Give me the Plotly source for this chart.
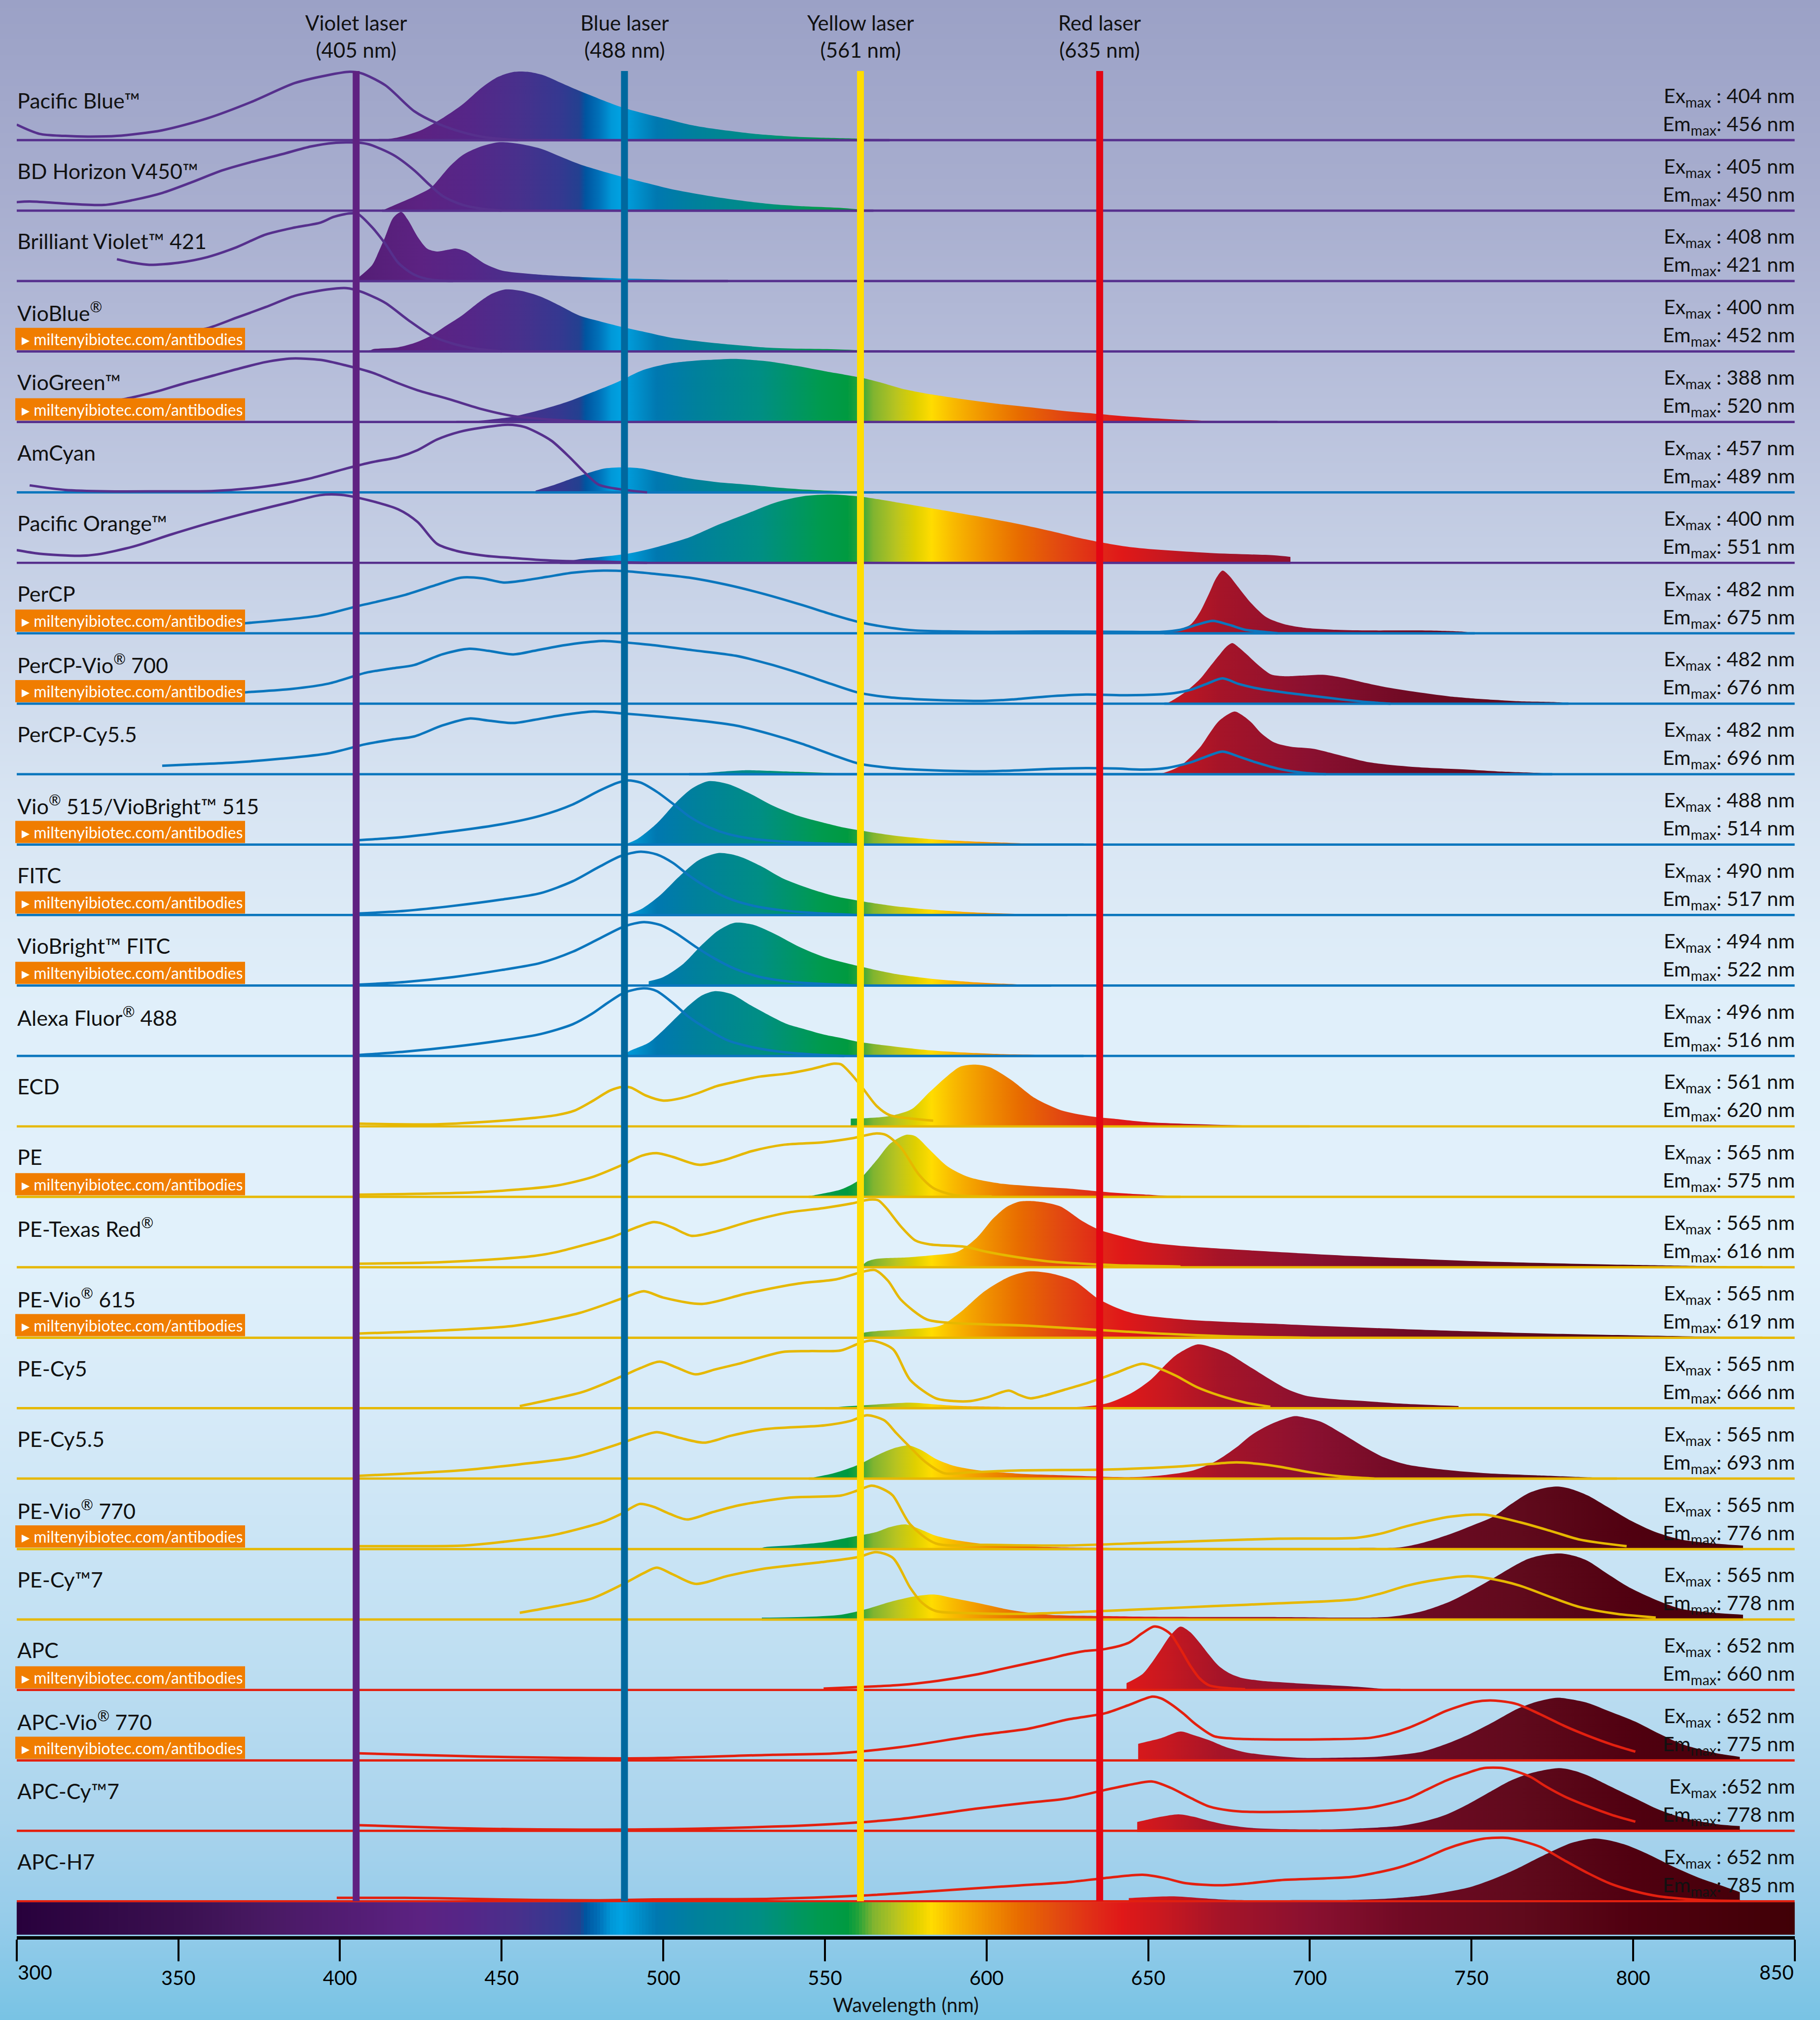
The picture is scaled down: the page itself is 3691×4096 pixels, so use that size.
import plotly.graph_objects as go

# ---------------- data ----------------
NAMES = ["Pacific Blue™", "BD Horizon V450™", "Brilliant Violet™ 421", "VioBlue<sup>®</sup>",
         "VioGreen™", "AmCyan", "Pacific Orange™", "PerCP", "PerCP-Vio<sup>®</sup> 700", "PerCP-Cy5.5",
         "Vio<sup>®</sup> 515/VioBright™ 515", "FITC", "VioBright™ FITC", "Alexa Fluor<sup>®</sup> 488",
         "ECD", "PE", "PE-Texas Red<sup>®</sup>", "PE-Vio<sup>®</sup> 615", "PE-Cy5", "PE-Cy5.5",
         "PE-Vio<sup>®</sup> 770", "PE-Cy™7", "APC", "APC-Vio<sup>®</sup> 770", "APC-Cy™7", "APC-H7"]
EX_MAX = [404, 405, 408, 400, 388, 457, 400, 482, 482, 482, 488, 490, 494, 496,
          561, 565, 565, 565, 565, 565, 565, 565, 652, 652, 652, 652]
EM_MAX = [456, 450, 421, 452, 520, 489, 551, 675, 676, 696, 514, 517, 522, 516,
          620, 575, 616, 619, 666, 693, 776, 778, 660, 775, 778, 785]
EX_SEP = [" : "] * 24 + [" :", " : "]
HAS_BADGE = [0, 0, 0, 1, 1, 0, 0, 1, 1, 0, 1, 1, 1, 0, 0, 1, 0, 1, 0, 0, 1, 0, 1, 1, 0, 0]
BADGE_TEXT = "▸ miltenyibiotec.com/antibodies"

LASER_NM = [405, 488, 561, 635]
LASER_NAMES = ["Violet laser", "Blue laser", "Yellow laser", "Red laser"]
LASER_COLORS = ["#5f2181", "#00689e", "#ffdd00", "#e30613"]

TICKS = [300, 350, 400, 450, 500, 550, 600, 650, 700, 750, 800, 850]

# spectra: (wavelength nm, relative intensity in % of row height)
PB_EX = [(300, 22), (307, 9), (315, 6), (322, 5), (331, 6), (345, 14), (359, 31), (373, 55), (386, 81),
         (396, 92), (403, 97), (406.5, 95), (414, 78), (423, 41), (430, 24), (438, 11), (445, 4), (455, 0)]
PB_EM = [(412, 0), (418, 4), (425, 14), (432, 32), (438, 51), (444, 75), (449, 90), (454, 97), (458, 97),
         (463, 92), (468, 82), (473, 72), (480, 59), (487, 47), (494, 38), (501, 30), (508, 22), (515, 16.5),
         (528, 9), (540, 5), (549, 3.5), (562, 2), (570, 0)]
BD_EX = [(300, 12), (304, 13), (315, 10), (327, 8), (336, 15), (345, 25), (354, 40), (363.5, 57),
         (372.6, 69), (382, 80), (391, 91), (398, 96), (405.6, 96.5), (409, 94), (416.5, 79), (423, 57),
         (427.6, 37), (432, 20), (438, 8), (445, 2), (450, 0)]
BD_EM = [(413, 0), (418, 10), (423, 20), (428, 32), (431, 47), (434, 63), (438, 79), (443, 90), (449, 97),
         (455, 95), (462, 88), (468, 77), (474, 66), (481, 56), (488, 47), (495, 39), (502, 31), (510, 24),
         (518, 18), (526, 13), (534, 9), (544, 6), (554, 4), (565, 0)]
BV421_EX = [(331, 31), (336, 26), (341, 23), (350, 26), (359, 34), (368, 48), (377, 66), (386, 76),
            (394, 83), (398, 91), (403, 96), (405.6, 95), (410, 76), (414, 53), (418, 26), (423, 9),
            (428, 2), (435, 0)]
BV421_EM = [(406, 6), (410, 23), (412, 42), (414, 63), (416.5, 90), (419, 98), (421, 87), (424, 63),
            (427, 46), (430, 42), (433, 44), (436, 46), (439, 42), (442, 33), (445, 24), (450, 15),
            (462, 9), (478, 5), (502, 2), (520, 0)]
VIOBLUE_EX = [(340, 18), (350, 26), (359, 33), (368, 48), (377, 63), (386, 79), (396, 88), (402, 90),
              (406.5, 85), (414, 69), (421, 45), (428.5, 22), (435, 11), (442, 4), (450, 0)]
VIOBLUE_EM = [(409, 0), (410, 3), (418, 6), (423, 12), (428, 22), (433, 37), (438, 52), (443, 70),
              (447, 82), (451, 88), (456, 86), (462, 78), (468, 65), (474, 51), (481, 42), (488, 34),
              (495, 27), (502, 20), (510, 15), (518, 11), (534, 5), (554, 3), (570, 0)]
VIOGREEN_EX = [(320, 20), (336, 35), (344, 44), (352, 55), (361, 66), (369, 76), (377, 85), (385, 90),
               (394, 88), (402, 80), (410, 70), (418, 55), (424, 45), (434, 32), (444, 18), (454, 8),
               (466, 3), (480, 0)]
VIOGREEN_EM = [(436, 0), (446, 3), (454, 8), (462, 17), (470, 28), (478, 42), (486, 57), (494, 74),
               (502, 83), (510, 87), (514, 88), (522, 89.5), (530, 87), (534, 85), (542, 79), (550, 72),
               (561, 63), (568, 55), (574, 47), (583, 39), (593, 32), (603, 26), (613, 21), (623, 16),
               (633, 12), (643, 8), (653, 5), (663, 2.5), (673, 1), (690, 0)]
AMCYAN_EX = [(304, 10), (315, 3.5), (328, 1.5), (344, 1.5), (361, 2), (377, 8.5), (390, 19), (402, 34),
             (410, 43), (418, 50), (424, 60), (430, 75), (437, 86), (444, 92), (452, 96), (457, 93),
             (461, 85), (465.5, 73), (471, 50), (475.5, 29), (480, 11), (485, 5.5), (489, 3), (495, 0)]
AMCYAN_EM = [(460.5, 2.6), (466.5, 11), (472, 20), (476.5, 27), (482, 34), (487.5, 35.5), (493, 34),
             (498.5, 29), (507.7, 20), (516.7, 14.5), (526, 11), (535, 7), (544, 4), (553, 2), (561, 0.7),
             (565, 0)]
PO_EX = [(300, 18), (307, 13), (319.5, 10), (325, 12), (336, 23), (348, 40.6), (360.7, 58), (373, 73),
         (385.5, 87), (393.7, 96), (400, 96.6), (406, 92), (418, 76), (424, 58), (430, 27), (436, 17),
         (445, 10), (453, 7), (462, 4), (470, 2.5), (482, 1.5), (495, 0)]
PO_EM = [(468, 0), (474, 5), (480, 8), (489, 13), (498.5, 23), (508, 36), (517, 54), (526, 70), (535, 86),
         (544, 95), (552, 97), (561, 94), (572, 86), (581, 79), (596, 67), (610, 55), (620, 45), (630, 34),
         (645, 22), (669, 14), (689, 10.6), (694, 8.4)]
PERCP_EX = [(340, 5), (355, 9), (370, 14), (393.6, 25), (405, 38), (419.8, 54), (428.7, 67), (437.5, 79),
            (444, 78), (450.7, 72), (457, 75), (463.9, 80), (472, 86), (481.4, 89), (489, 88), (496, 85),
            (508, 79), (519.5, 69), (531, 56), (543, 40), (552, 27), (560.5, 16), (570, 8), (578, 4),
            (590, 2.5), (601.5, 2), (615, 2.5), (630.8, 2.4), (645, 2), (654, 2), (660, 5), (665, 12),
            (670, 17.5), (675, 12), (680, 5), (683.5, 3), (690, 0)]
PERCP_EM = [(655, 0), (656, 1), (663, 12), (666, 30), (668.8, 56), (671, 78), (673, 89), (675, 82),
            (677.6, 67), (682, 42), (686.5, 23), (692, 13), (698, 8), (708, 5), (718.7, 4), (733, 4),
            (740, 3.5), (748, 2), (751, 0)]
PERCPVIO_EX = [(340, 6), (355, 11), (370, 16), (385, 21), (396.5, 28.6), (408, 44), (416, 50), (423, 55),
               (431.6, 70), (440, 78), (446, 75), (453.6, 70), (460, 75), (466.8, 81), (474, 86),
               (481.4, 89), (488, 87), (496, 83.6), (509, 76), (522.5, 68), (533, 56), (543, 42), (552, 28),
               (560.5, 15.6), (570, 9), (578, 6.5), (590, 4.5), (598.5, 4), (608, 6), (618, 10),
               (630.8, 13), (642, 12), (652.8, 13), (658, 15), (663, 19.6), (668, 28), (673, 36),
               (678, 28), (683.5, 22), (692, 16), (701, 11), (710, 6), (718.7, 2), (725, 0)]
PERCPVIO_EM = [(655, 0), (656, 1), (661, 15), (666, 35), (669, 52), (671.8, 68), (674, 80), (676, 86),
               (678, 80), (680.5, 70), (684, 55), (687.8, 42), (690.5, 39.5), (693.6, 39), (698, 40),
               (704, 41), (710, 37), (715.8, 31), (724, 23), (733, 16.5), (743, 10.5), (753.8, 6.4),
               (765, 3.5), (777, 2), (780, 0)]
PERCPCY55_EX = [(345, 12), (355, 14), (367, 16.5), (382, 22), (396.5, 29.6), (408, 42.6), (416, 49),
                (423, 53.6), (431.6, 69), (440, 79), (446, 76), (453.6, 72.6), (460, 77), (466.8, 82.5),
                (472, 86), (478.5, 89), (488, 86), (496, 83), (509, 77), (522.5, 69), (533, 57), (543, 43),
                (552, 28), (560.5, 15), (570, 9), (578, 6.5), (590, 4.5), (598.5, 4), (610, 5.5),
                (620, 7.5), (630.8, 8.6), (640, 8), (648.5, 6.5), (656, 9), (663, 16.5), (668, 25),
                (673, 32), (678, 25), (683.5, 16.5), (690, 8), (698, 2), (705, 0)]
PERCPCY55_EM = [(508, 0), (515, 2.5), (525, 5.5), (540, 3.5), (555, 1), (562, 0), (650, 0), (654, 1),
                (660, 12), (666, 38), (669, 58), (672, 76), (676.7, 89), (679, 84), (682, 73), (685, 58),
                (689, 45), (694, 39), (701, 36), (710, 26), (718.7, 16.6), (733, 10), (748, 6.7),
                (760, 3.5), (771.6, 1.5), (775, 0)]
VIO515_EX = [(405, 6), (420, 11), (435, 19), (450, 29), (462, 41), (472, 57), (480, 76), (486, 88),
             (489, 91), (493, 88), (498, 75), (503, 58), (508, 40), (514, 25), (520, 15), (528, 8),
             (538, 4), (550, 1.5), (560, 0)]
VIO515_EM = [(488, 0), (492, 8), (498, 30), (504, 60), (509, 80), (514, 90), (520, 86), (527, 72),
             (534, 55), (541, 42), (548, 33), (556, 24), (561, 20), (571, 13), (582, 8), (593, 5),
             (610, 2), (630, 0)]
FITC_EX = [(405, 2), (420, 6), (435, 13), (450, 22), (462, 31), (472, 48), (480, 68), (487, 84), (493, 90),
           (498, 86), (503, 74), (508, 56), (514, 38), (520, 24), (528, 13), (538, 6), (550, 2), (560, 0)]
FITC_EM = [(488, 0), (493, 8), (499, 28), (505, 55), (511, 78), (517, 88), (523, 84), (530, 70),
           (537, 52), (545, 38), (553, 27), (561, 20), (571, 13), (582, 8), (595, 4), (610, 1.5), (625, 0)]
VBFITC_EX = [(405, 1), (420, 5), (435, 12), (450, 22), (462, 32), (472, 48), (480, 66), (488, 84),
             (494, 90), (499, 86), (504, 74), (510, 55), (516, 38), (522, 24), (530, 12), (540, 5),
             (550, 2), (560, 0)]
VBFITC_EM = [(495.5, 6), (500, 12), (506, 30), (512, 58), (517, 78), (522, 89), (528, 86), (535, 72),
             (542, 55), (550, 40), (561, 27), (571, 17), (582, 10), (595, 5), (610, 1.5), (620, 0)]
ALEXA_EX = [(405, 1), (420, 6), (435, 13), (450, 22), (462, 31), (472, 45), (478, 60), (483, 76),
            (488, 90), (494, 96), (498, 92), (503, 75), (508, 55), (514, 37), (520, 22), (528, 12),
            (536, 6), (546, 2), (556, 0)]
ALEXA_EM = [(487, 0), (489.6, 7), (495.6, 19), (500, 36.5), (503, 50), (508, 72), (512, 86), (516, 92),
            (521, 88), (527, 72), (533, 57), (538.4, 45), (544, 37.6), (550, 30), (555, 25.5),
            (560.4, 20), (571.4, 13.4), (582.4, 8), (593.4, 4.8), (605, 2.5), (615, 1.5), (630, 0)]
ECD_EX = [(405, 4), (430, 3), (450, 8), (460, 12), (467, 16), (472.6, 22.5), (478, 35.7), (483.6, 51),
          (487.4, 56), (490, 55), (494.5, 44), (500, 36.6), (505.5, 40), (511, 47.6), (516.4, 57),
          (522, 63), (529.8, 70.6), (538.4, 75), (546, 81.6), (552.8, 89), (555, 88), (558, 75),
          (561.5, 55.5), (566, 29), (570, 16), (576.9, 11), (583.5, 8)]
ECD_EM = [(558, 11), (566, 12.6), (571.4, 16), (576.9, 24.6), (582.4, 48.8), (588, 72), (592, 85),
          (596.6, 87.7), (601, 84), (607.6, 66), (615, 40), (623, 23), (631.8, 14.6), (639, 11), (650, 6),
          (670, 2.5), (690, 0.5), (700, 0)]
PE_EX = [(405, 3), (420, 4), (440, 6), (454, 10), (467, 16), (478, 28), (487.4, 45.5), (493.5, 58.6),
         (498, 62), (503, 56.6), (511, 45.5), (518.7, 52), (527.5, 65), (537.4, 74), (549.5, 77.5),
         (558.3, 83), (566, 90), (569, 87.6), (573.5, 70), (579, 32), (583.5, 12.6), (590, 2.6),
         (601.6, 0.5)]
PE_EM = [(545, 0), (546, 1.5), (555, 10.5), (560.4, 23.6), (566, 52), (570.3, 76), (575, 88), (578, 86),
         (582.4, 67), (588, 43), (594.5, 28), (604, 19), (615, 14.7), (626, 11.4), (639, 6), (650, 3),
         (660, 0)]
PETR_EX = [(405, 5), (430, 7), (450, 12), (460, 16), (467, 21.6), (475, 31), (483.6, 42), (492.3, 57.6),
           (496.7, 64), (499, 63), (503, 56), (508.8, 44.6), (516.4, 51), (527.5, 66), (538.4, 77.6),
           (549.5, 84), (558.3, 90.6), (563.7, 96), (566.5, 95), (569, 84), (573.5, 58), (578, 38),
           (582.4, 32.5), (593.4, 29), (600, 22), (610, 14), (620, 8), (640, 3), (660, 1)]
PETR_EM = [(561, 0), (563, 8), (566, 12), (575, 14), (583, 17), (591, 22), (597, 42), (602, 69),
           (606, 85), (610, 93), (614, 94), (618, 92), (623, 86), (629.5, 66), (635, 53), (641, 45),
           (649, 36), (661, 30), (685, 23), (713, 16), (753, 8.4), (792, 4), (832, 1), (840, 0)]
PEVIO615_EX = [(406, 6), (430, 10), (454, 17), (474, 35), (488, 57), (494, 66), (500, 57), (512, 48),
               (526, 63), (542, 77), (553.6, 83), (562, 94), (565.5, 96), (569.5, 81), (573.5, 54),
               (581.5, 26), (589, 21), (600, 19), (613, 17), (633, 11.5), (653, 6), (675, 2), (700, 0)]
PEVIO615_EM = [(561, 0), (561.5, 6), (573.5, 11.5), (585.6, 17), (591.6, 35), (599.4, 66), (607, 86.5),
               (613, 94), (619, 92), (627, 81), (635, 54), (645, 35), (661, 26), (693, 19), (733, 11.5),
               (772.5, 6), (812, 2.4), (840, 0)]
PECY5_EX = [(455.6, 3), (465, 12), (475.5, 23.6), (487.4, 45.7), (493, 57), (498.9, 66), (504, 58),
            (510, 48), (516, 55), (523.3, 63), (536.6, 79.6), (545, 81), (555, 82), (560.5, 91.8),
            (564.4, 96), (571, 84), (576.4, 40), (584.3, 14), (590, 10), (595, 10), (600, 15),
            (606.9, 25), (610, 19), (613.5, 14), (618, 18), (624, 26), (632, 37), (640, 50), (648, 63),
            (653, 57), (658.7, 45.7), (665, 30), (672, 18), (680, 8), (687.8, 2)]
PECY5_EM = [(550, 0), (555, 2), (565, 5), (576.4, 7.8), (585, 5), (592.4, 3), (610, 1.5), (629.5, 2),
            (637.4, 7), (645, 22), (650.7, 40), (655, 60), (658.7, 75.5), (665.3, 90.5), (670, 86),
            (674.6, 78), (681, 60), (688, 40), (693, 27), (698.5, 18), (707, 13), (717, 10), (730, 6),
            (746, 3)]
PECY55_EX = [(406, 4), (420, 7), (438.4, 12), (455, 20), (472.9, 30.8), (487.4, 51), (493, 60), (498, 66),
             (505, 58), (512.7, 51), (521, 61), (531, 70), (549.9, 75.6), (558, 82), (563, 90),
             (568.4, 82.6), (572, 65), (576.4, 44.4), (581, 24), (587, 7.6), (595, 9), (610.9, 11.7),
             (637.4, 13), (658.7, 17), (670, 21), (677.3, 23), (684, 21), (690.5, 17), (700, 9),
             (709, 3.4), (720, 0)]
PECY55_EM = [(545, 0), (547, 2), (553, 8), (560.5, 20), (567, 35), (572, 44), (575.9, 47), (580, 40),
             (584.3, 28), (590, 18), (597.7, 11.7), (610, 7), (624, 4.7), (645.3, 2), (655, 5),
             (664, 11.7), (671, 25), (677.3, 44.4), (682, 62), (687.8, 77), (695.3, 88.7), (699, 86),
             (703.8, 80), (710, 64), (717, 44.4), (723, 30), (730, 20), (743.6, 11.7), (755, 7.5),
             (770, 4.7), (791.5, 0.8), (795, 0)]
PEVIO770_EX = [(406, 4), (420, 4), (438.4, 5), (450, 10), (465, 19), (481, 38), (487, 50), (492.7, 64),
               (497, 60), (502, 50), (507.4, 42), (515, 52), (523.3, 62), (539, 73), (555, 76), (560, 83),
               (564.4, 90), (568, 85), (571, 76), (576.4, 35), (584.3, 8), (600, 6), (624, 5),
               (650.7, 9), (670, 12), (690.5, 14.7), (714.5, 16), (722, 22), (730, 32.5), (743.6, 46),
               (754, 48.8), (765, 38), (775, 25), (783.5, 13.4), (798, 4)]
PEVIO770_EM = [(530, 0), (531, 2.4), (540, 5.5), (550, 10), (558, 17), (565.8, 24), (570, 31), (575, 35),
               (579, 29), (584.3, 19), (590, 13), (597.7, 8), (610, 4.5), (624, 2.4), (650, 1.2),
               (677, 1), (700, 1), (715, 1.5), (727.7, 2.4), (735, 9), (743.6, 21.6), (750, 33),
               (756.8, 46), (762, 63), (767.5, 79), (772, 86), (776.8, 88.7), (781, 85), (786, 76),
               (792, 60), (799, 41), (807, 24), (815, 13.4), (825, 8), (834, 5)]
PECY7_EX = [(455.6, 9.5), (467, 19), (478, 30), (488.7, 53), (494, 66), (498, 73.6), (503, 64),
            (510, 50.6), (520, 62), (531, 72), (550, 82), (560.5, 88.8), (565.8, 95.7), (571, 87.5),
            (576.4, 45), (580, 24), (584.3, 12), (595, 9), (610.9, 8), (630, 11), (650.7, 15), (670, 19),
            (690.5, 23), (714.5, 29), (722, 37), (730, 48), (740, 57), (749, 61.5), (757, 57), (765, 48),
            (775, 31), (783.5, 17.7), (795, 8), (807, 2.7)]
PECY7_EM = [(530.5, 2.7), (545, 4), (555, 6.8), (563, 15), (571, 26), (578, 33), (583.8, 35.4),
            (590, 30), (597.7, 23), (608, 13), (618.9, 6.8), (635, 5), (650.7, 4), (690.5, 3.5), (725, 4),
            (735, 12), (743.6, 26), (750, 41), (756.8, 58.7), (762, 73), (767.5, 86), (772, 91.5),
            (777.6, 93.7), (782, 90), (786, 83), (792, 65), (799, 45), (807, 28), (815, 15), (825, 9.5),
            (834, 6.8)]
APC_EX = [(549.6, 2), (560, 4), (573, 7), (585, 13), (597, 22), (605, 30), (613, 38), (620, 45),
          (625, 50.6), (630, 55), (636.6, 58), (644, 67), (648, 80), (651.7, 90), (654, 88), (657, 79),
          (660, 58), (663, 34.6), (666, 16), (668.9, 6.5), (674.8, 2.4), (680, 1)]
APC_EM = [(643.3, 9.6), (648.3, 22.8), (651, 38), (654, 58), (657, 78), (660, 90), (663, 82),
          (665.9, 67), (668.8, 50), (671.7, 34.6), (675, 24), (679, 17), (685, 13), (690.8, 11),
          (701, 8), (712.8, 5), (720, 2.5), (724.6, 0.6), (728, 0)]
APCVIO_EX = [(406, 10), (430, 7), (454, 4.6), (494, 3), (534, 8), (553.6, 10), (573.5, 19), (597, 35.6),
             (613, 45), (625, 58), (636.6, 66.8), (644, 78.6), (651.3, 90.5), (654, 88), (657, 80),
             (661, 66), (664.5, 52), (670.3, 34.5), (676, 31), (683.5, 30), (705.5, 30), (718.7, 32),
             (725, 38), (730.4, 46), (736, 57), (742, 70), (751, 83), (756.8, 85), (764, 80), (771, 66),
             (778.7, 49), (786, 35), (793.4, 22.6), (800.7, 12.4)]
APCVIO_EM = [(646.9, 23.5), (650, 27), (654, 31.6), (660, 41), (664, 36), (668.9, 28.6), (674, 19),
             (680.6, 11), (690, 6), (698, 3.6), (710, 4), (720, 5), (728, 8), (734.8, 12.4), (742, 23),
             (749.5, 37.4), (757, 55), (764, 72.7), (770, 83), (776.6, 89), (781, 86.5), (786, 81.5),
             (793, 69), (800.7, 55), (808, 38), (815.4, 22.6), (825, 11), (833, 5)]
APCCY7_EX = [(406, 8), (434, 4), (454, 2.4), (494, 2), (534, 6), (553.6, 10), (573.5, 17), (597, 31.6),
             (613, 40), (625, 46), (636.6, 58), (645, 66), (651.3, 70), (657, 61), (663, 47),
             (668.9, 34.5), (675, 29), (680.6, 27), (705.5, 28.6), (718.7, 33), (724, 38), (730.4, 46),
             (736, 58), (742, 71), (748, 81), (753.8, 89), (759.7, 89), (764, 84), (768.5, 76), (773, 63),
             (778.7, 49), (786, 35), (793.4, 22.7), (800.7, 13)]
APCCY7_EM = [(646.6, 12.6), (650, 16), (654, 20), (659.4, 23.4), (664, 20), (668.9, 14), (675, 8),
             (683.5, 3.6), (705.5, 2), (715, 3.5), (727.4, 6.7), (735, 13), (742, 22.7), (749, 38),
             (756.8, 58), (762, 71), (768.5, 82), (777.3, 89), (782, 85), (786, 78.5), (793, 63),
             (800.7, 46), (808, 30), (815.4, 18.6), (825, 10), (833, 6.7)]
APCH7_EX = [(399, 5), (420, 5), (440, 3.5), (460, 2), (480, 1.5), (497, 2.6), (515, 3), (533, 3.5),
            (561, 8), (584, 14.5), (610, 22.5), (625, 27), (636.6, 33), (648.3, 37.6), (655, 33),
            (661.5, 25.8), (671.7, 22.7), (680, 25), (690.8, 30), (712.8, 34.5), (720, 40), (727.4, 47.8),
            (735, 60), (742, 74), (748, 83), (753.8, 89), (761, 90), (766, 85), (771.4, 77), (778, 60),
            (786, 40), (793, 25), (800.7, 14), (808, 7), (815.4, 3.6), (825, 1), (833, 0.5)]
APCH7_EM = [(644, 4.6), (650, 6), (658, 7), (665, 5), (676, 2), (700, 1.8), (712.8, 2), (725, 4),
            (735, 8), (742, 13), (749.5, 20), (757, 32), (764, 46), (770, 60), (775.7, 72.7), (781, 83),
            (787.5, 89), (792, 87), (797.8, 80), (805, 66), (812.5, 49), (820, 34), (827, 22.7), (833, 13)]

EX_SPECTRA = [PB_EX, BD_EX, BV421_EX, VIOBLUE_EX, VIOGREEN_EX, AMCYAN_EX, PO_EX, PERCP_EX, PERCPVIO_EX,
              PERCPCY55_EX, VIO515_EX, FITC_EX, VBFITC_EX, ALEXA_EX, ECD_EX, PE_EX, PETR_EX, PEVIO615_EX,
              PECY5_EX, PECY55_EX, PEVIO770_EX, PECY7_EX, APC_EX, APCVIO_EX, APCCY7_EX, APCH7_EX]
EM_SPECTRA = [PB_EM, BD_EM, BV421_EM, VIOBLUE_EM, VIOGREEN_EM, AMCYAN_EM, PO_EM, PERCP_EM, PERCPVIO_EM,
              PERCPCY55_EM, VIO515_EM, FITC_EM, VBFITC_EM, ALEXA_EM, ECD_EM, PE_EM, PETR_EM, PEVIO615_EM,
              PECY5_EM, PECY55_EM, PEVIO770_EM, PECY7_EM, APC_EM, APCVIO_EM, APCCY7_EM, APCH7_EM]

# ---------------- styles ----------------
PURPLE, BLUE, GOLD, RED = "#56308d", "#0b76bd", "#e6b800", "#e3200f"
EX_COLOR = [PURPLE] * 7 + [BLUE] * 7 + [GOLD] * 8 + [RED] * 4
BASE_COLOR = [PURPLE] * 5 + [BLUE] + [PURPLE] + [BLUE] * 7 + [GOLD] * 8 + [RED] * 4

SPECTRUM_NM = [300, 330, 350, 380, 400, 425, 440, 455, 468, 474, 476, 480, 484, 487, 492, 498, 510, 530,
               548, 557, 560, 565, 572, 578, 583, 590, 600, 610, 622, 635, 642, 655, 672, 700, 730, 765,
               800, 850]
SPECTRUM_COLORS = ["#28003c", "#330a48", "#3a1050", "#4a1a65", "#521c72", "#5c2282", "#552688", "#48308c",
                   "#353890", "#234090", "#0055a0", "#0070b8", "#0098d8", "#00a2e2", "#0090cc", "#0078b0",
                   "#00809c", "#008e84", "#009a50", "#009a40", "#20a23a", "#80b430", "#b8c420", "#e0d000",
                   "#ffdc00", "#f8b800", "#f09000", "#e86c00", "#e24a10", "#e02818", "#e01818", "#c81820",
                   "#a61428", "#8a1030", "#700a24", "#600a1c", "#500010", "#400006"]
BG_POS = [0.0, 0.05, 0.10, 0.20, 0.30, 0.38, 0.50, 0.60, 0.70, 0.80, 0.90, 1.0]
BG_COLORS = ["rgb(120,195,228)", "rgb(150,204,234)", "rgb(170,212,237)", "rgb(195,225,243)",
             "rgb(214,234,248)", "rgb(225,241,251)", "rgb(224,239,250)", "rgb(216,229,243)",
             "rgb(201,212,232)", "rgb(185,193,220)", "rgb(168,174,207)", "rgb(155,161,198)"]

FONT = "Lato"
W, H = 3691, 4096
S = 0.941
ROW_PX = 151.8 * S
FIRST_BASE_PX = 302 * S
PLOT_LEFT_PX, PLOT_RIGHT_PX = 36 * S, 3868 * S
PLOT_BOTTOM_PX = 4172 * S
Y_TOP = 25 + FIRST_BASE_PX / ROW_PX
Y_BOTTOM = Y_TOP - PLOT_BOTTOM_PX / ROW_PX
N = len(NAMES)


def py(px):
    return 1 - px / H


def px_(p):
    return p / W


def row_px(i):
    return FIRST_BASE_PX + i * ROW_PX


spec_scale = [[(nm - 300) / 550, c] for nm, c in zip(SPECTRUM_NM, SPECTRUM_COLORS)]
bg_scale = [[p, c] for p, c in zip(BG_POS, BG_COLORS)]

fig = go.Figure()

# background gradient
fig.add_trace(go.Heatmap(x=[0, 1], y=BG_POS, z=[[p, p] for p in BG_POS], colorscale=bg_scale,
                         zmin=0, zmax=1, zsmooth="best", showscale=False, hoverinfo="skip",
                         xaxis="x", yaxis="y"))

for i in range(N):
    b = N - 1 - i
    lc = BASE_COLOR[i]
    fig.add_trace(go.Scatter(x=[TICKS[0], TICKS[-1]], y=[b, b], mode="lines",
                             line=dict(color=lc, width=4.7), xaxis="x2", yaxis="y2",
                             hoverinfo="skip", showlegend=False))
    em = EM_SPECTRA[i]
    ex_nm = [p[0] for p in em]
    ey = [b + p[1] / 100 for p in em]
    fig.add_trace(go.Scatter(x=[ex_nm[0], ex_nm[-1]], y=[b, b], mode="lines",
                             line=dict(color=lc, width=4.7), xaxis="x2", yaxis="y2",
                             hoverinfo="skip", showlegend=False))
    fig.add_trace(go.Scatter(x=ex_nm, y=ey, mode="lines", line=dict(width=0, shape="spline", smoothing=0.8),
                             fill="tonexty",
                             fillgradient=dict(type="horizontal", colorscale=spec_scale, start=300, stop=850),
                             xaxis="x2", yaxis="y2", hoverinfo="skip", showlegend=False))
    ex = EX_SPECTRA[i]
    fig.add_trace(go.Scatter(x=[p[0] for p in ex], y=[b + p[1] / 100 for p in ex], mode="lines",
                             line=dict(color=EX_COLOR[i], width=5, shape="spline", smoothing=0.8),
                             xaxis="x2", yaxis="y2", hoverinfo="skip", showlegend=False))

# colour bar strip
WL = list(range(TICKS[0], TICKS[-1] + 1))
fig.add_trace(go.Heatmap(x=WL, y=[0, 1], z=[WL, WL], colorscale=spec_scale, zmin=300, zmax=850,
                         showscale=False, hoverinfo="skip", xaxis="x2", yaxis="y3"))

shapes = []
for nm, col in zip(LASER_NM, LASER_COLORS):
    shapes.append(dict(type="line", xref="x2", yref="y2", x0=nm, x1=nm, y0=0,
                       y1=Y_TOP - 153 * S / ROW_PX, line=dict(color=col, width=14), layer="above"))

ann = []
for nm, name in zip(LASER_NM, LASER_NAMES):
    ann.append(dict(x=nm, xref="x2", y=py(73), yref="paper", text=f"{name}<br>({nm} nm)",
                    showarrow=False, xanchor="center", yanchor="middle",
                    font=dict(family=FONT, size=42, color="#111")))

for i in range(N):
    rb = row_px(i)
    ann.append(dict(x=px_(33), xref="paper", y=py(rb - 81), yref="paper", text=NAMES[i],
                    showarrow=False, xanchor="left", yanchor="middle",
                    font=dict(family=FONT, size=43, color="#111")))
    ann.append(dict(x=px_(PLOT_RIGHT_PX + 2), xref="paper", y=py(rb - 88), yref="paper",
                    text=f"Ex<sub>max</sub>{EX_SEP[i]}{EX_MAX[i]} nm",
                    showarrow=False, xanchor="right", yanchor="middle",
                    font=dict(family=FONT, size=41, color="#111")))
    ann.append(dict(x=px_(PLOT_RIGHT_PX + 2), xref="paper", y=py(rb - 31), yref="paper",
                    text=f"Em<sub>max</sub>: {EM_MAX[i]} nm",
                    showarrow=False, xanchor="right", yanchor="middle",
                    font=dict(family=FONT, size=41, color="#111")))
    if HAS_BADGE[i]:
        shapes.append(dict(type="rect", xref="paper", yref="paper", x0=px_(31), x1=px_(497),
                           y0=py(rb - 3), y1=py(rb - 48), fillcolor="#f07d00", line=dict(width=0),
                           layer="above"))
        ann.append(dict(x=px_(42), xref="paper", y=py(rb - 25.5), yref="paper", text=BADGE_TEXT,
                        showarrow=False, xanchor="left", yanchor="middle",
                        font=dict(family=FONT, size=32, color="white")))

# end tick labels sit inside the axis span (left / right aligned)
TICK_LABEL_Y = py(3999)
ann.append(dict(x=TICKS[0], xref="x2", y=TICK_LABEL_Y, yref="paper", text=str(TICKS[0]), showarrow=False,
                xanchor="left", yanchor="middle", font=dict(family=FONT, size=40, color="black")))
ann.append(dict(x=TICKS[-1], xref="x2", y=TICK_LABEL_Y, yref="paper", text=str(TICKS[-1]), showarrow=False,
                xanchor="right", yanchor="middle", font=dict(family=FONT, size=40, color="black")))

ann.append(dict(x=px_((PLOT_LEFT_PX + PLOT_RIGHT_PX) / 2), xref="paper", y=py(4320 * S), yref="paper",
                text="Wavelength (nm)", showarrow=False, xanchor="center", yanchor="middle",
                font=dict(family=FONT, size=40, color="#111")))

tick_text = [""] + [str(t) for t in TICKS[1:-1]] + [""]

fig.update_layout(
    width=W, height=H, margin=dict(l=0, r=0, t=0, b=0),
    paper_bgcolor="rgb(190,205,228)", plot_bgcolor="rgba(0,0,0,0)",
    showlegend=False, shapes=shapes, annotations=ann,
    xaxis=dict(domain=[0, 1], range=[0, 1], visible=False, fixedrange=True),
    yaxis=dict(domain=[0, 1], range=[0, 1], visible=False, fixedrange=True),
    xaxis2=dict(domain=[px_(PLOT_LEFT_PX), px_(PLOT_RIGHT_PX)], range=[TICKS[0], TICKS[-1]], anchor="y2",
                tickvals=TICKS, ticktext=tick_text, ticks="outside", ticklen=44, tickwidth=3.8,
                tickcolor="black", showline=True, linewidth=6.5, linecolor="black", showgrid=False,
                zeroline=False, tickfont=dict(family=FONT, size=40, color="black")),
    yaxis2=dict(domain=[py(PLOT_BOTTOM_PX), 1], range=[Y_BOTTOM, Y_TOP], anchor="x2", visible=False),
    yaxis3=dict(domain=[py(4169 * S), py(4099 * S)], range=[0, 1], anchor="x2", visible=False),
)

fig.write_html("out.html", config={"displayModeBar": False}, post_script=(
    "document.body.style.margin='0px';"
    "document.body.style.overflow='hidden';"
    "document.documentElement.style.overflow='hidden';"))
